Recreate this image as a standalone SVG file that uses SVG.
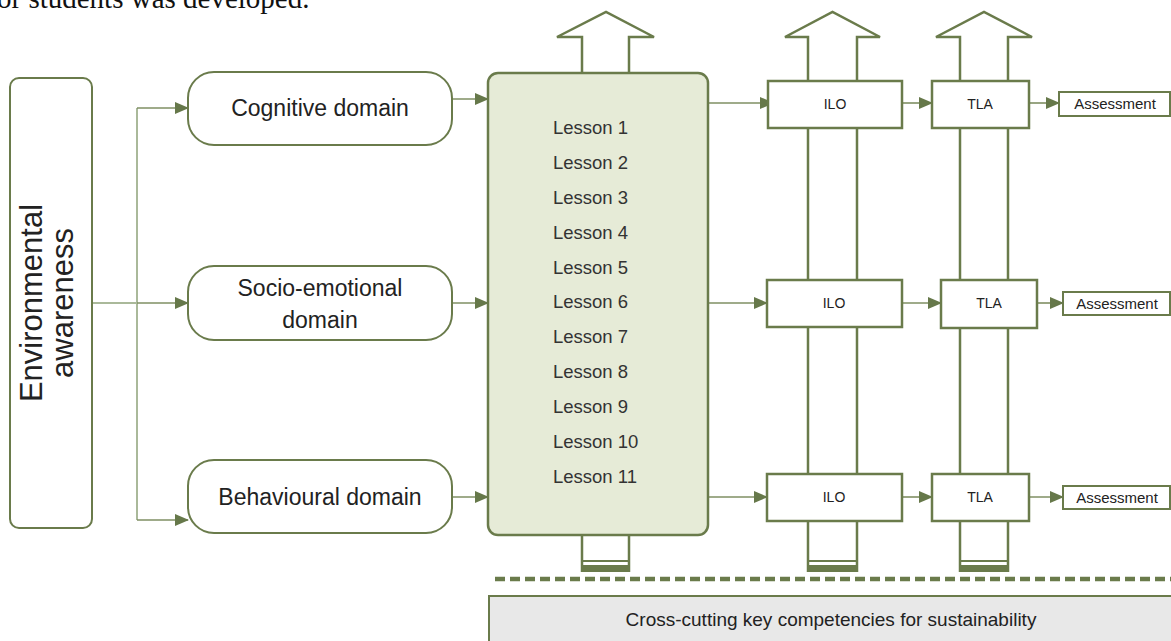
<svg xmlns="http://www.w3.org/2000/svg" width="1171" height="641" viewBox="0 0 1171 641">
<defs>
<marker id="ah" markerUnits="userSpaceOnUse" markerWidth="14" markerHeight="12" refX="13" refY="6" orient="auto">
<path d="M0,0 L14,6 L0,12 Z" fill="#66784a"/>
</marker>
<style>
.box{fill:#fff;stroke:#6a7b4b;stroke-width:2}
.shape{fill:#fff;stroke:#6a7b4b;stroke-width:2.5}
.lesson{fill:#e6ebd7;stroke:#6a7b4b;stroke-width:2.5}
.conn{fill:none;stroke:#7f8f63;stroke-width:1.6}
.branch{fill:none;stroke:#aab99a;stroke-width:2}
.t{font-family:"Liberation Sans",Arial,sans-serif;fill:#222}
.dom{font-size:23px;text-anchor:middle}
.les{font-size:18.5px;fill:#333}
.sm{font-size:14px;text-anchor:middle;fill:#222}
.as{font-size:15px;text-anchor:middle;fill:#222}
.bar{fill:#6a7b4b}
</style>
</defs>
<text x="-3" y="8" font-family="Liberation Serif,serif" font-size="29" fill="#111">or students was developed.</text>

<g id="arrows-up">
<path class="shape" d="M582,73 V37 H557 L606,12 L654,37 H629 V73"/>
<path class="shape" d="M582,535 V572 M629,535 V572"/>
<path class="shape" d="M808,572 V37 H785 L832.5,12 L880,37 H857 V572"/>
<path class="shape" d="M960,572 V37 H936 L984,12 L1032,37 H1008 V572"/>
<rect class="bar" x="581" y="560" width="49" height="2"/>
<rect class="bar" x="581" y="565" width="49" height="7"/>
<rect class="bar" x="807" y="560" width="51" height="2"/>
<rect class="bar" x="807" y="565" width="51" height="7"/>
<rect class="bar" x="959" y="560" width="50" height="2"/>
<rect class="bar" x="959" y="565" width="50" height="7"/>
</g>

<g id="connectors">
<path class="branch" d="M92,303 H137 M137,108 V520"/>
<path class="conn" d="M137,108 H188" marker-end="url(#ah)"/>
<path class="conn" d="M137,303 H188" marker-end="url(#ah)"/>
<path class="conn" d="M137,520 H188" marker-end="url(#ah)"/>
<path class="conn" d="M452,99 H488" marker-end="url(#ah)"/>
<path class="conn" d="M452,303 H488" marker-end="url(#ah)"/>
<path class="conn" d="M452,497 H488" marker-end="url(#ah)"/>
<path class="conn" d="M708,103 H773" marker-end="url(#ah)"/>
<path class="conn" d="M708,303 H767" marker-end="url(#ah)"/>
<path class="conn" d="M708,497 H767" marker-end="url(#ah)"/>
<path class="conn" d="M902,103 H932" marker-end="url(#ah)"/>
<path class="conn" d="M902,303 H941" marker-end="url(#ah)"/>
<path class="conn" d="M902,497 H932" marker-end="url(#ah)"/>
<path class="conn" d="M1029,103 H1059" marker-end="url(#ah)"/>
<path class="conn" d="M1037,303 H1063" marker-end="url(#ah)"/>
<path class="conn" d="M1029,497 H1063" marker-end="url(#ah)"/>
</g>

<g id="env">
<rect class="box" x="10" y="78" width="82" height="450" rx="9"/>
<text class="t" transform="translate(48,303) rotate(-90)" font-size="31" text-anchor="middle"><tspan x="0" y="-6">Environmental</tspan><tspan x="0" y="25">awareness</tspan></text>
</g>

<g id="cognitive">
<rect class="box" x="188" y="72" width="264" height="73" rx="26"/>
<text class="t dom" x="320" y="116">Cognitive domain</text>
</g>
<g id="socio">
<rect class="box" x="188" y="266" width="264" height="74" rx="26"/>
<text class="t dom" x="320" y="296">Socio-emotional</text>
<text class="t dom" x="320" y="328">domain</text>
</g>
<g id="behavioural">
<rect class="box" x="188" y="460" width="264" height="73" rx="26"/>
<text class="t dom" x="320" y="505">Behavioural domain</text>
</g>

<g id="lessons">
<rect class="lesson" x="488" y="73" width="220" height="462" rx="10"/>
<text class="t les" x="553" y="134">Lesson 1</text>
<text class="t les" x="553" y="169">Lesson 2</text>
<text class="t les" x="553" y="204">Lesson 3</text>
<text class="t les" x="553" y="239">Lesson 4</text>
<text class="t les" x="553" y="274">Lesson 5</text>
<text class="t les" x="553" y="308">Lesson 6</text>
<text class="t les" x="553" y="343">Lesson 7</text>
<text class="t les" x="553" y="378">Lesson 8</text>
<text class="t les" x="553" y="413">Lesson 9</text>
<text class="t les" x="553" y="448">Lesson 10</text>
<text class="t les" x="553" y="483">Lesson 11</text>
</g>

<g id="ilo1"><rect class="shape" x="768" y="81" width="134" height="47"/><text class="t sm" x="835" y="109">ILO</text></g>
<g id="tla1"><rect class="shape" x="932" y="81" width="97" height="47"/><text class="t sm" x="980" y="109">TLA</text></g>
<g id="assess1"><rect class="box" x="1059" y="92" width="111" height="24"/><text class="t as" x="1115" y="109">Assessment</text></g>

<g id="ilo2"><rect class="shape" x="767" y="280" width="135" height="47"/><text class="t sm" x="834" y="308">ILO</text></g>
<g id="tla2"><rect class="shape" x="941" y="280" width="96" height="48"/><text class="t sm" x="989" y="308">TLA</text></g>
<g id="assess2"><rect class="box" x="1063" y="292" width="107" height="23"/><text class="t as" x="1117" y="309">Assessment</text></g>

<g id="ilo3"><rect class="shape" x="767" y="474" width="135" height="47"/><text class="t sm" x="834" y="502">ILO</text></g>
<g id="tla3"><rect class="shape" x="932" y="474" width="97" height="47"/><text class="t sm" x="980" y="502">TLA</text></g>
<g id="assess3"><rect class="box" x="1063" y="486" width="107" height="23"/><text class="t as" x="1117" y="503">Assessment</text></g>

<line x1="495" y1="579" x2="1171" y2="579" stroke="#6a7b4b" stroke-width="4.5" stroke-dasharray="10,5"/>

<g id="competencies">
<rect x="489" y="596" width="690" height="60" fill="#e8e8e8" stroke="#6a7b4b" stroke-width="2"/>
<text class="t" x="831" y="626" font-size="19" text-anchor="middle" fill="#333">Cross-cutting key competencies for sustainability</text>
</g>
</svg>
